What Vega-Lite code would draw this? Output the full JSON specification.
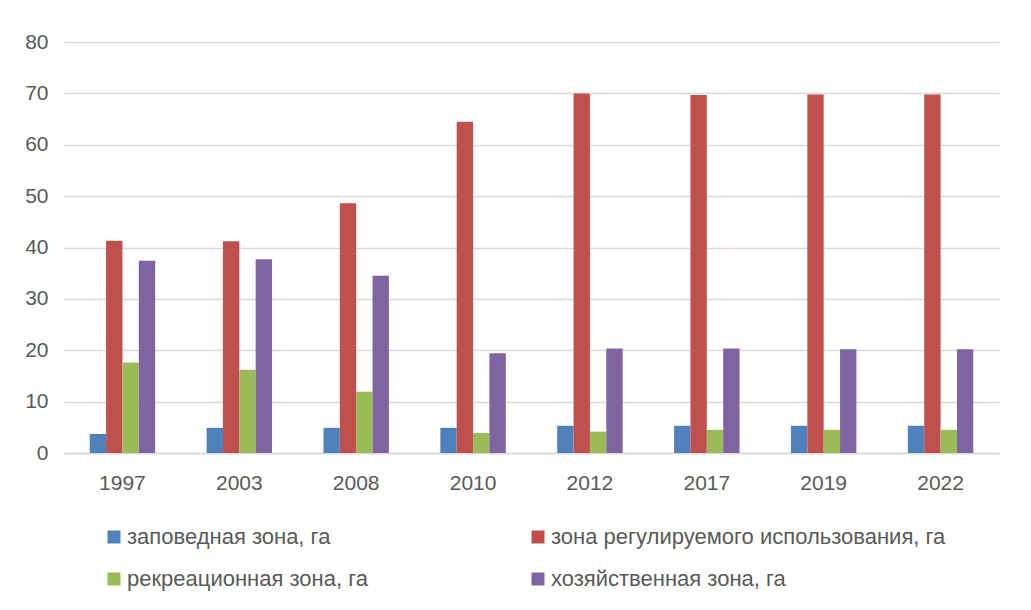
{
  "$schema": "https://vega.github.io/schema/vega-lite/v6.json",
  "autosize": "none",
  "width": 935,
  "height": 411,
  "padding": {"left": 64, "top": 42, "right": 32, "bottom": 157},
  "background": "white",
  "data": {
    "values": [
      {"year": "1997", "zone": "заповедная зона, га", "value": 3.7},
      {"year": "1997", "zone": "зона регулируемого использования, га", "value": 41.3},
      {"year": "1997", "zone": "рекреационная зона, га", "value": 17.6},
      {"year": "1997", "zone": "хозяйственная зона, га", "value": 37.4},
      {"year": "2003", "zone": "заповедная зона, га", "value": 4.9},
      {"year": "2003", "zone": "зона регулируемого использования, га", "value": 41.2},
      {"year": "2003", "zone": "рекреационная зона, га", "value": 16.2},
      {"year": "2003", "zone": "хозяйственная зона, га", "value": 37.7},
      {"year": "2008", "zone": "заповедная зона, га", "value": 4.9},
      {"year": "2008", "zone": "зона регулируемого использования, га", "value": 48.6},
      {"year": "2008", "zone": "рекреационная зона, га", "value": 11.9},
      {"year": "2008", "zone": "хозяйственная зона, га", "value": 34.5},
      {"year": "2010", "zone": "заповедная зона, га", "value": 4.9},
      {"year": "2010", "zone": "зона регулируемого использования, га", "value": 64.5},
      {"year": "2010", "zone": "рекреационная зона, га", "value": 3.9},
      {"year": "2010", "zone": "хозяйственная зона, га", "value": 19.4},
      {"year": "2012", "zone": "заповедная зона, га", "value": 5.3},
      {"year": "2012", "zone": "зона регулируемого использования, га", "value": 70.0},
      {"year": "2012", "zone": "рекреационная зона, га", "value": 4.15},
      {"year": "2012", "zone": "хозяйственная зона, га", "value": 20.35},
      {"year": "2017", "zone": "заповедная зона, га", "value": 5.3},
      {"year": "2017", "zone": "зона регулируемого использования, га", "value": 69.7},
      {"year": "2017", "zone": "рекреационная зона, га", "value": 4.5},
      {"year": "2017", "zone": "хозяйственная зона, га", "value": 20.35},
      {"year": "2019", "zone": "заповедная зона, га", "value": 5.3},
      {"year": "2019", "zone": "зона регулируемого использования, га", "value": 69.8},
      {"year": "2019", "zone": "рекреационная зона, га", "value": 4.5},
      {"year": "2019", "zone": "хозяйственная зона, га", "value": 20.2},
      {"year": "2022", "zone": "заповедная зона, га", "value": 5.3},
      {"year": "2022", "zone": "зона регулируемого использования, га", "value": 69.8},
      {"year": "2022", "zone": "рекреационная зона, га", "value": 4.5},
      {"year": "2022", "zone": "хозяйственная зона, га", "value": 20.2}
    ]
  },
  "mark": {"type": "bar"},
  "encoding": {
    "x": {
      "field": "year",
      "type": "nominal",
      "sort": null,
      "scale": {"paddingInner": 0.44, "paddingOuter": 0.22},
      "axis": {
        "title": null,
        "labelAngle": 0,
        "ticks": false,
        "tickSize": 0,
        "labelPadding": 19,
        "labelFont": "Liberation Sans",
        "labelFontSize": 21,
        "labelColor": "#595959",
        "domainColor": "#d9d9d9",
        "domainWidth": 1.5
      }
    },
    "xOffset": {
      "field": "zone",
      "type": "nominal",
      "sort": null,
      "scale": {"paddingInner": 0, "paddingOuter": 0}
    },
    "y": {
      "field": "value",
      "type": "quantitative",
      "scale": {"domain": [0, 80]},
      "axis": {
        "title": null,
        "values": [0, 10, 20, 30, 40, 50, 60, 70, 80],
        "domain": false,
        "ticks": false,
        "tickSize": 0,
        "labelPadding": 16,
        "labelFont": "Liberation Sans",
        "labelFontSize": 21,
        "labelColor": "#595959",
        "gridColor": "#d9d9d9",
        "gridWidth": 1.5
      }
    },
    "color": {
      "field": "zone",
      "type": "nominal",
      "sort": null,
      "scale": {
        "domain": ["заповедная зона, га", "зона регулируемого использования, га", "рекреационная зона, га", "хозяйственная зона, га"],
        "range": ["#4f81bd", "#c0504d", "#9bbb59", "#8064a2"]
      },
      "legend": {
        "title": null,
        "orient": "none",
        "legendX": 39,
        "legendY": 484,
        "direction": "horizontal",
        "columns": 2,
        "gridAlign": "all",
        "columnPadding": 5,
        "rowPadding": 20,
        "symbolType": "square",
        "symbolSize": 169,
        "symbolStrokeWidth": 0,
        "labelFont": "Liberation Sans",
        "labelFontSize": 22,
        "labelColor": "#595959",
        "labelLimit": 600,
        "labelOffset": 2
      }
    }
  },
  "config": {"view": {"stroke": null}}
}
